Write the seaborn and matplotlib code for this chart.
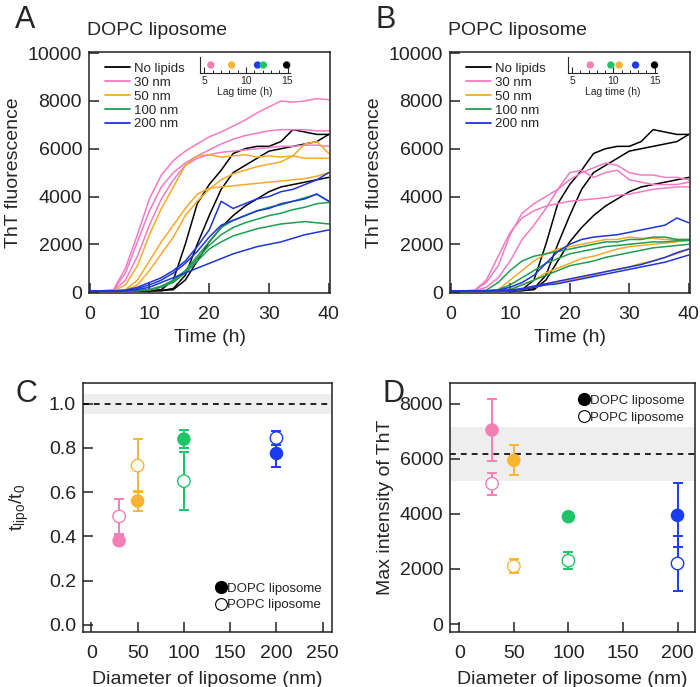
import numpy as np
import pandas as pd
import seaborn as sns
import matplotlib.pyplot as plt
from matplotlib.lines import Line2D
from matplotlib.ticker import MultipleLocator

# time axis of the ThT kinetics (h)
time_h = [0, 2, 4, 6, 8, 10, 12, 14, 16, 18, 20, 22, 24, 26, 28, 30, 32, 34, 36, 38, 40]

# no lipids (same control in A and B)
ctrl_1 = [50, 50, 50, 50, 50, 50, 100, 500, 2000, 3700, 4500, 5100, 5800, 6000, 6100, 6100, 6300, 6800, 6700, 6600, 6600]
ctrl_2 = [50, 50, 50, 50, 50, 50, 60, 150, 700, 2000, 3200, 4300, 5000, 5300, 5600, 5900, 6000, 6100, 6200, 6300, 6600]
ctrl_3 = [50, 50, 50, 50, 50, 50, 60, 100, 500, 1300, 2100, 2700, 3200, 3600, 3900, 4200, 4400, 4500, 4600, 4700, 4800]

# DOPC liposome
dopc_30_1 = [50, 50, 100, 1000, 2400, 3900, 4900, 5500, 5900, 6200, 6500, 6700, 6950, 7200, 7500, 7750, 8000, 7950, 8000, 8100, 8050]
dopc_30_2 = [50, 50, 80, 800, 2100, 3400, 4400, 5000, 5400, 5700, 5950, 6200, 6400, 6550, 6650, 6750, 6800, 6800, 6800, 6750, 6750]
dopc_30_3 = [50, 50, 60, 500, 1500, 2800, 3900, 4700, 5300, 5600, 5750, 5850, 5900, 5950, 6000, 6050, 6100, 6100, 6150, 6150, 6100]
dopc_50_1 = [50, 50, 50, 300, 1100, 2400, 3500, 4400, 5300, 5700, 5750, 5650, 5700, 5750, 5650, 5700, 5650, 5700, 5600, 5600, 5600]
dopc_50_2 = [50, 50, 50, 100, 500, 1300, 2100, 2800, 3500, 4100, 4350, 4400, 4450, 4500, 4550, 4600, 4650, 4700, 4750, 4850, 5000]
dopc_50_3 = [50, 50, 50, 80, 300, 900, 1600, 2300, 3200, 3800, 4300, 4700, 4950, 5100, 5250, 5350, 5450, 5700, 6200, 6300, 5800]
dopc_100_1 = [50, 50, 50, 50, 60, 100, 250, 500, 900, 1500, 2100, 2700, 3000, 3200, 3400, 3550, 3650, 3800, 3950, 4100, 3800]
dopc_100_2 = [50, 50, 50, 50, 60, 80, 200, 400, 800, 1300, 1800, 2100, 2350, 2500, 2650, 2750, 2850, 2900, 2950, 2900, 2850]
dopc_100_3 = [50, 50, 50, 50, 60, 100, 220, 450, 850, 1400, 1950, 2400, 2700, 2900, 3050, 3200, 3300, 3450, 3550, 3700, 3750]
dopc_200_1 = [50, 50, 50, 80, 200, 400, 600, 900, 1300, 1900, 2600, 3800, 3500, 3700, 3900, 4000, 4200, 4300, 4500, 4700, 5000]
dopc_200_2 = [50, 50, 50, 60, 150, 300, 500, 800, 1200, 1700, 2300, 2800, 3000, 3200, 3400, 3500, 3700, 3800, 3900, 4100, 3800]
dopc_200_3 = [50, 50, 50, 50, 100, 200, 400, 600, 800, 1000, 1200, 1400, 1600, 1750, 1900, 2000, 2100, 2250, 2400, 2500, 2600]

# POPC liposome
popc_30_1 = [50, 50, 80, 400, 1100, 2400, 3300, 3700, 4000, 4300, 4700, 5000, 5200, 5400, 5300, 5000, 4900, 4900, 4800, 4800, 4700]
popc_30_2 = [50, 50, 50, 200, 600, 1300, 2200, 2800, 3500, 4300, 5000, 5100, 4800, 5000, 5100, 4700, 4600, 4500, 4500, 4500, 4600]
popc_30_3 = [50, 50, 60, 500, 1500, 2500, 3100, 3400, 3600, 3700, 3800, 3850, 3900, 3950, 4050, 4100, 4200, 4300, 4350, 4400, 4400]
popc_50_1 = [50, 50, 50, 50, 100, 500, 900, 1300, 1600, 1800, 1900, 2000, 2100, 2200, 2200, 2300, 2250, 2250, 2200, 2200, 2200]
popc_50_2 = [50, 50, 50, 50, 60, 100, 300, 500, 800, 1000, 1200, 1400, 1500, 1650, 1800, 1900, 1950, 2000, 2050, 2100, 2200]
popc_50_3 = [50, 50, 50, 50, 50, 60, 100, 200, 300, 400, 500, 600, 700, 850, 950, 1050, 1200, 1300, 1450, 1600, 1800]
popc_100_1 = [50, 50, 50, 80, 400, 900, 1300, 1500, 1600, 1700, 1800, 1900, 2000, 2100, 2100, 2200, 2200, 2300, 2300, 2200, 2200]
popc_100_2 = [50, 50, 50, 50, 100, 300, 600, 900, 1200, 1400, 1600, 1700, 1800, 1900, 1950, 2000, 2050, 2100, 2100, 2150, 2150]
popc_100_3 = [50, 50, 50, 50, 60, 100, 300, 500, 700, 900, 1100, 1200, 1300, 1450, 1550, 1650, 1750, 1850, 1900, 1950, 2000]
popc_200_1 = [50, 50, 50, 50, 80, 200, 400, 700, 1200, 1700, 2000, 2200, 2300, 2350, 2400, 2500, 2600, 2700, 2800, 3100, 2900]
popc_200_2 = [50, 50, 50, 50, 60, 80, 150, 250, 350, 450, 550, 650, 750, 850, 950, 1050, 1150, 1300, 1450, 1650, 1800]
popc_200_3 = [50, 50, 50, 50, 50, 60, 100, 200, 300, 350, 450, 550, 650, 750, 850, 950, 1050, 1150, 1250, 1400, 1550]

groups = ["No lipids", "30 nm", "50 nm", "100 nm", "200 nm"]

# lag times (inset)
lag_groups = ["30 nm", "50 nm", "200 nm", "100 nm", "No lipids"]
lag_dopc = [5.8, 8.3, 11.4, 12.1, 14.9]
lag_popc_groups = ["30 nm", "100 nm", "50 nm", "200 nm", "No lipids"]
lag_popc = [7.2, 9.7, 10.7, 12.7, 15.0]

# panel C / D
diameters = [30, 50, 100, 200]
ratio_dopc = [0.38, 0.56, 0.84, 0.775]
ratio_dopc_err = [0.02, 0.045, 0.04, 0.06]
ratio_popc = [0.49, 0.72, 0.65, 0.845]
ratio_popc_err = [0.08, 0.12, 0.13, 0.03]
ratio_ctrl, ratio_ctrl_err = 1.0, 0.045

maxi_dopc = [7050, 5950, 3900, 3950]
maxi_dopc_err = [1120, 550, 100, 1160]
maxi_popc = [5100, 2100, 2300, 2200]
maxi_popc_err = [400, 250, 300, 1000]
maxi_ctrl, maxi_ctrl_err = 6180, 970

line_colors = {"No lipids": "black", "30 nm": "#F27BC4", "50 nm": "#F7A928",
               "100 nm": "#1E9E50", "200 nm": "#1F35D8"}
dot_colors = {"No lipids": "black", "30 nm": "#F57FB4", "50 nm": "#F9B531",
              "100 nm": "#1DC468", "200 nm": "#1A3BF2"}
size_colors = [dot_colors[g] for g in ["30 nm", "50 nm", "100 nm", "200 nm"]]

sns.set_theme(style="ticks")
plt.rcParams["font.family"] = ["Liberation Sans", "DejaVu Sans"]
plt.rcParams["mathtext.fontset"] = "custom"
plt.rcParams["mathtext.rm"] = "Liberation Sans"
plt.rcParams["mathtext.it"] = "Liberation Sans"

W, H = 700, 687
fig = plt.figure(figsize=(W / 100, H / 100), dpi=100)


def box(l, t, r, b):
    return [l / W, 1 - b / H, (r - l) / W, (b - t) / H]


def style(ax):
    for s in ax.spines.values():
        s.set_linewidth(1.1)
        s.set_color("#222222")
    ax.tick_params(direction="in", length=7, width=1.1, labelsize=14, colors="#222222",
                   top=False, right=False, pad=5)
    ax.tick_params(axis="x", pad=9)


def long_table(curves):
    rows = []
    for grp, reps in curves:
        for i, vals in enumerate(reps):
            for t, v in zip(time_h, vals):
                rows.append({"time": t, "tht": v, "group": grp, "rep": f"{grp}_{i}"})
    return pd.DataFrame(rows)


panels = [
    ("A", "DOPC liposome", box(89, 52, 330, 293), (200, 57, 290, 73), lag_groups, lag_dopc,
     [("No lipids", [ctrl_1, ctrl_2, ctrl_3]),
      ("30 nm", [dopc_30_1, dopc_30_2, dopc_30_3]),
      ("50 nm", [dopc_50_1, dopc_50_2, dopc_50_3]),
      ("100 nm", [dopc_100_1, dopc_100_2, dopc_100_3]),
      ("200 nm", [dopc_200_1, dopc_200_2, dopc_200_3])]),
    ("B", "POPC liposome", box(450, 52, 690, 293), (568, 57, 657, 73), lag_popc_groups, lag_popc,
     [("No lipids", [ctrl_1, ctrl_2, ctrl_3]),
      ("30 nm", [popc_30_1, popc_30_2, popc_30_3]),
      ("50 nm", [popc_50_1, popc_50_2, popc_50_3]),
      ("100 nm", [popc_100_1, popc_100_2, popc_100_3]),
      ("200 nm", [popc_200_1, popc_200_2, popc_200_3])]),
]

for letter, title, rect, inset, lg, lv, curves in panels:
    ax = fig.add_axes(rect)
    df = long_table(curves)
    sns.lineplot(data=df, x="time", y="tht", hue="group", units="rep", estimator=None,
                 hue_order=groups, palette=line_colors, legend=False, lw=1.1, ax=ax)
    ax.set_xlim(-0.1, 40.2)
    ax.set_ylim(-40, 10050)
    ax.set_xticks([0, 10, 20, 30, 40])
    ax.set_yticks([0, 2000, 4000, 6000, 8000, 10000])
    style(ax)
    ax.set_xlabel("Time (h)", fontsize=14, labelpad=5)
    ax.set_ylabel("ThT fluorescence", fontsize=14, labelpad=4)
    handles = [Line2D([], [], color=line_colors[g], lw=1.3) for g in groups]
    ax.legend(handles, groups, loc="upper left", bbox_to_anchor=(0.065, 0.955), frameon=False,
              fontsize=9.5, handlelength=1.9, handletextpad=0.35, labelspacing=0.12,
              borderaxespad=0, borderpad=0)
    fig.text(rect[0] - 74 / W, 1 - 28 / H, letter, fontsize=22)
    fig.text(rect[0] - 2 / W, 1 - 35 / H, title, fontsize=14)

    # lag time inset
    l, t, r, b = inset
    axi = fig.add_axes(box(l, t, r, b))
    axi.set_facecolor("none")
    sns.scatterplot(x=lv, y=[0.5] * len(lv), hue=lg, palette=dot_colors, s=28,
                    edgecolor="none", legend=False, ax=axi, zorder=5, clip_on=False)
    axi.set_xlim(4.5, 15.3)
    axi.set_ylim(0, 1)
    axi.set_yticks([])
    axi.xaxis.set_major_locator(MultipleLocator(5))
    axi.xaxis.set_minor_locator(MultipleLocator(1))
    for s in ["top", "right"]:
        axi.spines[s].set_visible(False)
    for s in ["left", "bottom"]:
        axi.spines[s].set_linewidth(0.8)
    axi.tick_params(axis="x", which="major", direction="in", length=4, width=0.8,
                    labelsize=7.5, pad=2)
    axi.tick_params(axis="x", which="minor", direction="in", length=2.2, width=0.7)
    axi.set_xlabel("Lag time (h)", fontsize=7.5, labelpad=1)


def dot_panel(rect, letter, dopc, dopc_err, popc, popc_err, ctrl, ctrl_err, ylim, yticks,
              xlim, xticks, ylabel, ylabelpad, leg_pos, leg_anchor):
    ax = fig.add_axes(rect)
    ax.axhspan(ctrl - ctrl_err, ctrl + ctrl_err, color="#EEEEEE", lw=0, zorder=0)
    ax.axhline(ctrl, color="black", lw=1.2, ls=(0, (3.5, 3)), zorder=1)
    for x, y, e, c in zip(diameters, popc, popc_err, size_colors):
        ax.errorbar(x, y, yerr=e, fmt="none", ecolor=c, elinewidth=1.4, capsize=3.5,
                    capthick=1.4, zorder=2)
    for x, y, e, c in zip(diameters, dopc, dopc_err, size_colors):
        ax.errorbar(x, y, yerr=e, fmt="none", ecolor=c, elinewidth=1.4, capsize=3.5,
                    capthick=1.4, zorder=2)
    ax.scatter(diameters, popc, s=80, facecolors="white", edgecolors=size_colors,
               linewidths=1.0, zorder=3)
    sns.scatterplot(x=diameters, y=dopc, hue=[str(d) for d in diameters],
                    palette=size_colors, s=95, edgecolor="none", legend=False, ax=ax, zorder=4)
    ax.set_xlim(*xlim)
    ax.set_ylim(*ylim)
    ax.set_xticks(xticks)
    ax.set_yticks(yticks)
    style(ax)
    ax.set_xlabel("Diameter of liposome (nm)", fontsize=14, labelpad=7)
    ax.set_ylabel(ylabel, fontsize=14, labelpad=ylabelpad)
    handles = [Line2D([], [], ls="none", marker="o", ms=8.5, mfc="black", mec="black"),
               Line2D([], [], ls="none", marker="o", ms=8.5, mfc="none", mec="black", mew=0.8)]
    ax.legend(handles, ["DOPC liposome", "POPC liposome"], loc=leg_pos,
              bbox_to_anchor=leg_anchor, frameon=False,
              fontsize=9.5, handlelength=0.8, handletextpad=0.05, labelspacing=0.35,
              borderaxespad=0.5, borderpad=0.3)
    fig.text(rect[0] - 68 / W, 1 - 402 / H, letter, fontsize=22)
    return ax


dot_panel(box(83, 383, 332, 632), "C", ratio_dopc, ratio_dopc_err, ratio_popc, ratio_popc_err,
          ratio_ctrl, ratio_ctrl_err, (-0.033, 1.094), [0.0, 0.2, 0.4, 0.6, 0.8, 1.0],
          (-9, 260), [0, 50, 100, 150, 200, 250], r"t$_{\mathrm{lipo}}$/t$_0$", 13,
          "lower right", (1.0, 0.04))
dot_panel(box(450, 383, 695, 632), "D", maxi_dopc, maxi_dopc_err, maxi_popc, maxi_popc_err,
          maxi_ctrl, maxi_ctrl_err, (-290, 8760), [0, 2000, 4000, 6000, 8000],
          (-8.5, 216), [0, 50, 100, 150, 200], "Max intensity of ThT", 4,
          "upper right", (1.0, 0.995))

fig.savefig("out.png", dpi=100)
